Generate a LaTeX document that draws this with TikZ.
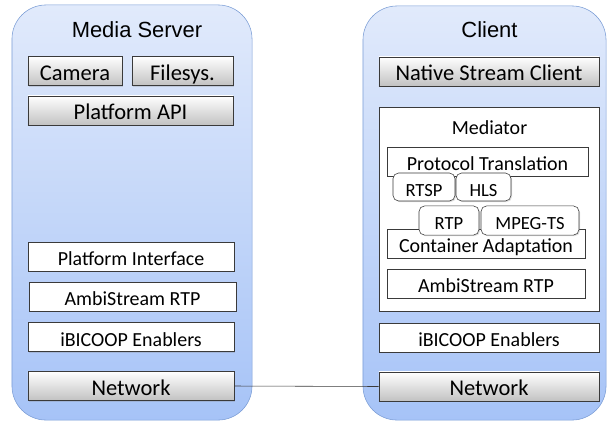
\documentclass[tikz,border=0pt]{standalone}
\usepackage{fontspec}
\newfontfamily\boxfont{Carlito}
\newfontfamily\titlefont{Liberation Sans}
\usetikzlibrary{shadows}
\definecolor{hosttop}{HTML}{E1EAFB}
\definecolor{hostbottom}{HTML}{A6C3F7}
\definecolor{hostline}{HTML}{7C9ED6}
\definecolor{boxline}{HTML}{3A3A3A}
\tikzset{
  host/.style={draw=hostline,rounded corners=0.85cm,top color=hosttop,bottom color=hostbottom},
  hosttitle/.style={font=\titlefont\fontsize{15.6}{18}\selectfont},
  boxtext/.style={font=\boxfont\fontsize{14.2}{17}\selectfont,text height=13pt,text depth=0pt},
  layer/.style={draw=boxline,inner sep=0pt,minimum height=0.73cm,boxtext,
    drop shadow={shadow xshift=0.8pt,shadow yshift=-0.8pt,opacity=0.25}},
  graybox/.style={layer,top color=white,bottom color=black!24,font=\boxfont\fontsize{16}{18}\selectfont},
  whitebox/.style={layer,fill=white},
  protobox/.style={whitebox,rounded corners=4pt,font=\boxfont\fontsize{13.2}{16}\selectfont}
}
\begin{document}
\begin{tikzpicture}[x=0.025cm,y=-0.025cm]
  \useasboundingbox (0,0) rectangle (609,421);
  % Media Server
  \node[host,minimum width=6cm,minimum height=10.375cm] (server) at (132,212.5) {};
  \node[hosttitle] (servertitle) at (137,30) {Media Server};
  \node[graybox,minimum width=2.35cm] (cam) at (75,71) {Camera};
  \node[graybox,minimum width=2.525cm] (fs) at (182.5,71) {Filesys.};
  \node[graybox,minimum width=5.125cm] (api) at (130.5,110.5) {Platform API};
  \node[whitebox,minimum width=5.15cm] (pif) at (131,256.5) {Platform Interface};
  \node[whitebox,minimum width=5.175cm] (ambiL) at (132.5,296.5) {AmbiStream RTP};
  \node[whitebox,minimum width=5.15cm] (ibL) at (131,337) {iBICOOP Enablers};
  \node[graybox,minimum width=5.15cm] (netL) at (131,386) {Network};
  % Client
  \node[host,minimum width=6.075cm,minimum height=10.35cm] (client) at (484.5,213) {};
  \node[hosttitle] (clienttitle) at (489.5,30) {Client};
  \node[graybox,minimum width=5.5cm] (nsc) at (489,71.5) {Native Stream Client};
  \node[whitebox,minimum width=5.5cm,minimum height=5.1cm] (med) at (489,209) {};
  \node[boxtext] (medtitle) at (489.5,125) {Mediator};
  \node[whitebox,minimum width=5.025cm] (pt) at (487.5,161.5) {Protocol Translation};
  \node[whitebox,minimum width=4.95cm] (ca) at (486,243.5) {Container Adaptation};
  \node[whitebox,minimum width=4.95cm] (ambiR) at (486,283.5) {AmbiStream RTP};
  \node[protobox,minimum width=1.55cm,minimum height=0.7cm] (rtsp) at (424,187) {RTSP};
  \node[protobox,minimum width=1.375cm,minimum height=0.7cm] (hls) at (483.5,187) {HLS};
  \node[protobox,minimum width=1.5cm] (rtp) at (449,220.5) {RTP};
  \node[protobox,minimum width=2.45cm] (mpeg) at (530,220.5) {MPEG-TS};
  \node[whitebox,minimum width=5.5cm] (ibR) at (489,337.5) {iBICOOP Enablers};
  \node[graybox,minimum width=5.5cm] (netR) at (489,386.5) {Network};
  % link
  \draw[boxline] (netL.east) -- (netR.west);
\end{tikzpicture}
\end{document}
